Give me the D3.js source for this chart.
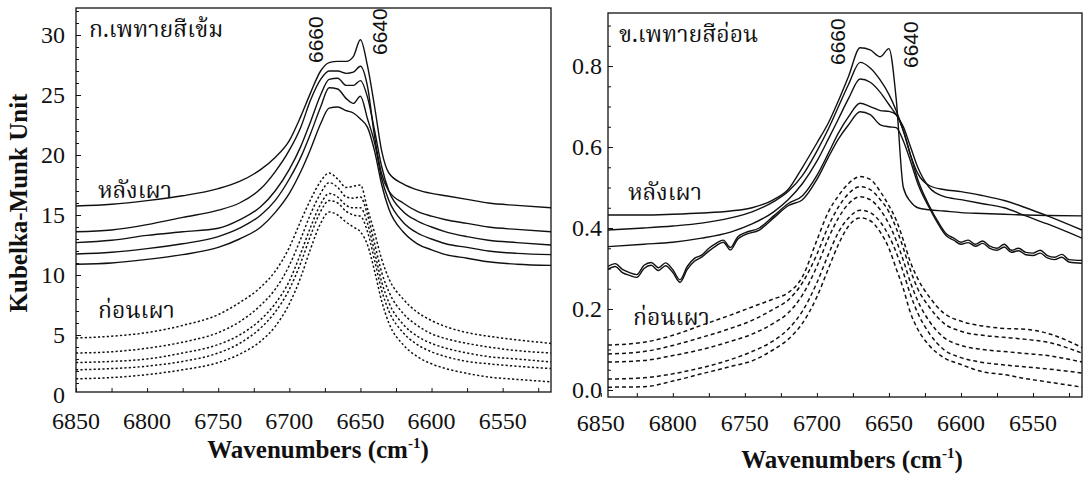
<!DOCTYPE html>
<html><head><meta charset="utf-8">
<script src="https://cdn.jsdelivr.net/npm/d3@7"></script>
<style>
html,body{margin:0;padding:0;background:#fff;}
svg{display:block;}
.tick-lbl{font-family:"Liberation Serif","Times New Roman",serif;font-size:24px;fill:#111;}
.title{font-family:"Liberation Serif","Times New Roman",serif;font-size:25px;font-weight:bold;fill:#111;}
.thai{font-family:"Noto Serif Thai","Norasi","Noto Sans Thai Looped","Loma","Garuda","Noto Sans Thai","Noto Sans",sans-serif;font-size:23px;fill:#111;}
.peak{font-family:"Liberation Sans Narrow","Liberation Sans",sans-serif;font-size:21px;fill:#111;}
</style></head>
<body>
<svg id="chart" width="1090" height="478"></svg>
<script>
// ---------- Data ----------
// Panel A (ก.เพทายสีเข้ม) wavenumber grid (cm-1)
const waveA = [6850,6825,6800,6775,6750,6735,6720,6710,6700,6692,6685,6678,6672,6666,6660,6655,6650,6645,6640,6635,6630,6620,6610,6600,6590,6575,6560,6540,6516];
// after burning (หลังเผา), solid
const aAfter1 = [15.75,15.9,16.2,16.6,17.2,17.8,18.8,19.8,21.2,23.2,25.2,27.0,27.7,27.8,27.8,28.2,29.6,27.4,24.0,20.3,18.5,17.6,17.1,16.8,16.6,16.3,16.0,15.8,15.6];
const aAfter2 = [13.6,13.75,14.2,14.8,15.4,16.0,17.2,18.6,20.4,22.3,24.6,26.3,27.0,27.0,26.8,26.9,27.4,25.7,21.5,18.4,17.0,16.0,15.3,14.9,14.6,14.3,14.0,13.8,13.6];
const aAfter3 = [12.7,12.9,13.3,13.6,13.9,14.6,15.7,17.0,18.8,20.7,22.8,25.0,26.3,26.4,25.8,25.8,26.2,24.8,22.0,19.0,17.0,15.3,14.5,14.0,13.6,13.2,12.9,12.7,12.5];
const aAfter4 = [11.75,11.9,12.2,12.6,13.2,13.9,15.0,16.2,18.0,19.8,21.8,24.0,25.6,25.5,24.7,24.3,24.9,23.0,21.0,18.0,16.2,14.4,13.5,13.0,12.6,12.3,12.0,11.8,11.7];
const aAfter5 = [10.9,11.0,11.3,11.7,12.3,13.0,14.0,15.2,16.8,18.6,20.5,22.6,23.9,24.0,23.7,23.5,23.0,22.3,20.3,17.5,15.5,13.6,12.6,12.1,11.7,11.4,11.1,10.9,10.8];
// before burning (ก่อนเผา), dotted
const aBefore1 = [4.75,4.9,5.2,5.8,6.7,7.7,9.0,10.3,12.3,14.5,16.3,17.8,18.5,18.0,17.3,17.4,17.5,15.5,13.5,11.3,9.7,8.0,6.9,6.2,5.7,5.2,4.9,4.6,4.3];
const aBefore2 = [3.5,3.6,3.9,4.4,5.2,6.1,7.5,8.8,10.8,13.0,15.1,16.8,17.7,17.3,16.5,16.4,16.5,15.0,12.6,10.2,8.6,6.8,5.8,5.1,4.7,4.3,4.0,3.7,3.5];
const aBefore3 = [2.7,2.8,3.0,3.5,4.2,5.0,6.3,7.6,9.5,11.8,14.0,15.9,16.8,16.5,15.8,15.6,15.6,14.3,11.9,9.4,7.7,5.9,4.9,4.3,3.9,3.5,3.2,3.0,2.75];
const aBefore4 = [2.1,2.2,2.4,2.8,3.5,4.3,5.6,6.9,8.8,11.0,13.3,15.3,16.2,16.0,15.3,15.0,14.9,13.6,11.2,8.7,7.0,5.2,4.2,3.6,3.2,2.8,2.6,2.4,2.2];
const aBefore5 = [1.35,1.45,1.7,2.1,2.7,3.4,4.5,5.7,7.6,9.8,12.2,14.3,15.25,15.0,14.4,14.0,13.6,12.5,10.3,7.8,6.0,4.2,3.2,2.6,2.2,1.8,1.5,1.3,1.1];

// Panel B (ข.เพทายสีอ่อน)
const waveB = [6845,6820,6800,6780,6760,6745,6730,6720,6710,6700,6692,6685,6678,6670,6663,6656,6650,6645,6640,6635,6630,6622,6612,6600,6585,6570,6555,6540,6516];
const waveBFine = [6845,6840,6835,6830,6825,6820,6815,6810,6805,6800,6795,6790,6785,6780,6775,6770,6765,6760,6755,6750,6740,6730,6720,6710,6700,6692,6685,6678,6670,6663,6656,6650,6645,6640,6635,6630,6622,6615,6610,6605,6600,6595,6590,6585,6580,6575,6570,6565,6560,6555,6550,6545,6540,6535,6530,6525,6516];
const bAfter1 = [0.432,0.432,0.434,0.437,0.442,0.45,0.47,0.495,0.55,0.61,0.66,0.715,0.775,0.845,0.84,0.823,0.843,0.72,0.50,0.465,0.45,0.445,0.442,0.438,0.436,0.434,0.432,0.431,0.43];
const bAfter2 = [0.395,0.40,0.405,0.412,0.425,0.44,0.465,0.49,0.53,0.59,0.645,0.70,0.755,0.809,0.795,0.765,0.73,0.69,0.64,0.58,0.535,0.505,0.495,0.49,0.48,0.468,0.45,0.43,0.395];
const bAfter3 = [0.354,0.36,0.365,0.375,0.39,0.41,0.44,0.47,0.51,0.565,0.62,0.67,0.72,0.768,0.76,0.735,0.705,0.68,0.65,0.60,0.55,0.50,0.478,0.47,0.46,0.45,0.43,0.41,0.375];
const bAfter4 = [0.305,0.312,0.298,0.29,0.285,0.308,0.315,0.302,0.314,0.297,0.272,0.305,0.325,0.333,0.35,0.362,0.37,0.352,0.378,0.388,0.40,0.43,0.46,0.48,0.53,0.585,0.635,0.675,0.708,0.70,0.69,0.688,0.68,0.64,0.58,0.52,0.455,0.41,0.385,0.375,0.365,0.37,0.36,0.368,0.355,0.35,0.36,0.345,0.35,0.34,0.338,0.345,0.332,0.328,0.335,0.322,0.32];
const bAfter5 = [0.298,0.305,0.29,0.283,0.278,0.30,0.308,0.295,0.307,0.29,0.266,0.298,0.318,0.328,0.343,0.356,0.365,0.346,0.372,0.383,0.395,0.425,0.455,0.47,0.52,0.575,0.62,0.655,0.687,0.68,0.655,0.65,0.648,0.615,0.565,0.51,0.45,0.405,0.38,0.37,0.36,0.364,0.355,0.362,0.35,0.345,0.353,0.34,0.344,0.334,0.332,0.338,0.326,0.322,0.328,0.316,0.313];
const bBefore1 = [0.111,0.118,0.135,0.16,0.185,0.205,0.225,0.24,0.28,0.37,0.44,0.48,0.51,0.527,0.52,0.49,0.455,0.42,0.37,0.315,0.275,0.23,0.19,0.17,0.158,0.152,0.15,0.14,0.105];
const bBefore2 = [0.089,0.095,0.11,0.13,0.152,0.172,0.2,0.222,0.265,0.335,0.405,0.452,0.485,0.502,0.495,0.47,0.44,0.40,0.35,0.295,0.25,0.205,0.165,0.145,0.135,0.13,0.125,0.118,0.091];
const bBefore3 = [0.069,0.073,0.085,0.10,0.12,0.138,0.165,0.19,0.235,0.305,0.375,0.425,0.46,0.477,0.47,0.445,0.41,0.37,0.32,0.265,0.22,0.17,0.13,0.11,0.10,0.095,0.09,0.085,0.069];
const bBefore4 = [0.027,0.03,0.04,0.055,0.075,0.095,0.122,0.15,0.195,0.265,0.335,0.39,0.425,0.444,0.438,0.415,0.38,0.34,0.29,0.235,0.19,0.14,0.10,0.08,0.068,0.062,0.057,0.052,0.042];
const bBefore5 = [0.007,0.008,0.022,0.04,0.058,0.072,0.10,0.125,0.165,0.23,0.30,0.36,0.405,0.425,0.418,0.39,0.35,0.30,0.25,0.19,0.15,0.11,0.08,0.063,0.045,0.038,0.028,0.02,0.007];

// Tick labels
const xTicks = [6850,6800,6750,6700,6650,6600,6550];
const yTicksA = [0,5,10,15,20,25,30];
const yTicksB = [0,0.2,0.4,0.6,0.8];

// ---------- Drawing ----------
const svg = d3.select("#chart");

function panel(cfg){
  const g = svg.append("g");
  const x = d3.scaleLinear().domain(cfg.xDomain).range([cfg.left, cfg.right]);
  const y = d3.scaleLinear().domain(cfg.yDomain).range([cfg.bottom, cfg.top]);
  const line = (wave) => d3.line().x((d,i)=>x(wave[i])).y(d=>y(d)).curve(d3.curveMonotoneX);

  const clipId = "clip"+cfg.id;
  svg.append("clipPath").attr("id",clipId).append("rect")
    .attr("x",cfg.left).attr("y",cfg.top).attr("width",cfg.right-cfg.left).attr("height",cfg.bottom-cfg.top);
  const plot = g.append("g").attr("clip-path",`url(#${clipId})`);

  cfg.before.forEach(s=>{
    plot.append("path").attr("d",line(s.w)(s.v)).attr("fill","none")
      .attr("stroke","#111").attr("stroke-width",1.5).attr("stroke-dasharray",cfg.dash);
  });
  cfg.after.forEach(s=>{
    plot.append("path").attr("d",line(s.w)(s.v)).attr("fill","none")
      .attr("stroke","#111").attr("stroke-width",1.4);
  });

  // frame
  g.append("rect").attr("x",cfg.left).attr("y",cfg.top)
    .attr("width",cfg.right-cfg.left).attr("height",cfg.bottom-cfg.top)
    .attr("fill","none").attr("stroke","#111").attr("stroke-width",1.3);

  // x axis ticks (inward) and labels
  const xa = d3.axisBottom(x).tickValues(d3.range(6850,6500,-25)).tickSize(-4).tickFormat("");
  g.append("g").attr("transform",`translate(0,${cfg.bottom})`).call(xa)
    .call(s=>s.select(".domain").remove()).selectAll("line").attr("stroke","#111");
  xTicks.forEach(t=>{
    g.append("text").attr("class","tick-lbl").attr("x",x(t)).attr("y",cfg.xLabelY)
      .attr("text-anchor","middle").text(t);
  });
  // y axis ticks (inward)
  const ya = d3.axisLeft(y).tickValues(cfg.yMinor).tickSize(-3).tickFormat("");
  g.append("g").attr("transform",`translate(${cfg.left},0)`).call(ya)
    .call(s=>s.select(".domain").remove()).selectAll("line").attr("stroke","#111");
  const yb = d3.axisLeft(y).tickValues(cfg.yTicks.filter(v=>v>cfg.yDomain[0])).tickSize(-5).tickFormat("");
  g.append("g").attr("transform",`translate(${cfg.left},0)`).call(yb)
    .call(s=>s.select(".domain").remove()).selectAll("line").attr("stroke","#111");
  cfg.yTicks.forEach(t=>{
    g.append("text").attr("class","tick-lbl").attr("x",cfg.left-cfg.yLabelGap).attr("y",y(t)+cfg.yLabelDy)
      .attr("text-anchor","end").text(cfg.yFmt(t));
  });

  // x title
  const xt = g.append("text").attr("class","title").attr("x",cfg.xTitleX).attr("y",cfg.xTitleY).attr("text-anchor","middle");
  xt.append("tspan").text("Wavenumbers (cm");
  xt.append("tspan").attr("font-size","15px").attr("dy",-10).text("-1");
  xt.append("tspan").attr("dy",10).text(")");

  // annotations
  cfg.notes.forEach(n=>{
    g.append("text").attr("class","thai").attr("x",n.x).attr("y",n.y).text(n.t);
  });
  cfg.peaks.forEach(p=>{
    g.append("text").attr("class","peak").attr("transform",`translate(${p.x},${p.y}) rotate(-90)`).text(p.t);
  });
  return {x,y};
}

panel({
  id:"A", left:76, right:551, top:8, bottom:392,
  xDomain:[6850,6516], yDomain:[0.25,32.25],
  yTicks:yTicksA, yMinor:d3.range(1,33,1), yFmt:d=>d, yLabelGap:11, yLabelDy:8, xLabelY:429,
  dash:"2.2,2.2",
  after:[aAfter1,aAfter2,aAfter3,aAfter4,aAfter5].map(v=>({w:waveA,v})),
  before:[aBefore1,aBefore2,aBefore3,aBefore4,aBefore5].map(v=>({w:waveA,v})),
  xTitleX:318, xTitleY:458,
  notes:[{x:89,y:37,t:"ก.เพทายสีเข้ม"},{x:98,y:198,t:"หลังเผา"},{x:98,y:318,t:"ก่อนเผา"}],
  peaks:[{x:323,y:63,t:"6660"},{x:387,y:55,t:"6640"}]
});

panel({
  id:"B", left:608, right:1082, top:13, bottom:397,
  xDomain:[6845,6516], yDomain:[-0.0173,0.931],
  yTicks:yTicksB, yMinor:d3.range(0,0.95,0.05), yFmt:d3.format(".1f"), yLabelGap:6, yLabelDy:8, xLabelY:431,
  dash:"4,3",
  after:[{w:waveB,v:bAfter1},{w:waveB,v:bAfter2},{w:waveB,v:bAfter3},{w:waveBFine,v:bAfter4},{w:waveBFine,v:bAfter5}],
  before:[bBefore1,bBefore2,bBefore3,bBefore4,bBefore5].map(v=>({w:waveB,v})),
  xTitleX:852, xTitleY:468,
  notes:[{x:619,y:42,t:"ข.เพทายสีอ่อน"},{x:628,y:200,t:"หลังเผา"},{x:633,y:325,t:"ก่อนเผา"}],
  peaks:[{x:845,y:65,t:"6660"},{x:918,y:68,t:"6640"}]
});

// shared y title
svg.append("text").attr("class","title").attr("transform","translate(27,203) rotate(-90)")
  .attr("text-anchor","middle").text("Kubelka-Munk Unit");
</script>
</body></html>
